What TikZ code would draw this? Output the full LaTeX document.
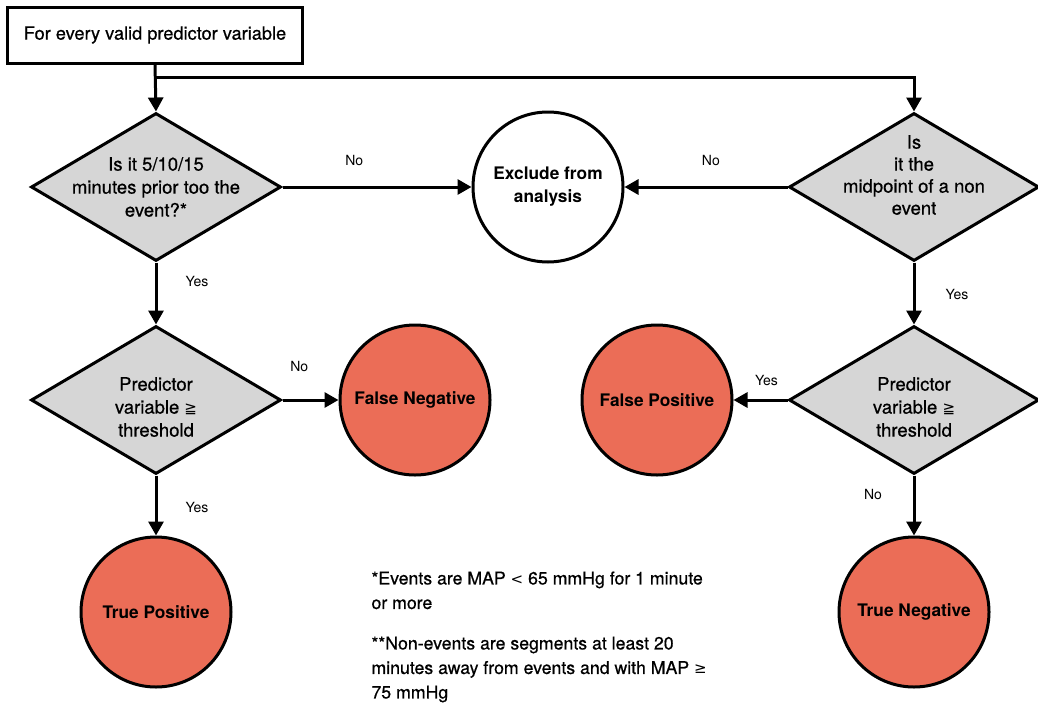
\documentclass[tikz,border=0pt]{standalone}
\usepackage{fontspec}
\setmainfont{TeX Gyre Heros}
\newfontfamily\medfont[FakeBold=0.6]{TeX Gyre Heros}
\newfontfamily\symfont{DejaVu Sans}
\usetikzlibrary{shapes.geometric,arrows.meta}
\definecolor{salmon}{HTML}{EB6D57}
\definecolor{qgray}{HTML}{D6D6D6}
\tikzset{
  startbox/.style={draw,rectangle,minimum width=295pt,minimum height=56pt,inner sep=0pt},
  question/.style={draw,diamond,fill=qgray,minimum width=250pt,minimum height=148pt,inner sep=0pt},
  qtext/.style={align=center,font=\medfont\fontsize{18.5}{23}\selectfont},
  outcome/.style={draw,circle,fill=salmon,minimum size=150pt,inner sep=0pt,align=center,
    font=\fontsize{17.3}{23}\selectfont\bfseries},
  answer/.style={font=\fontsize{14}{16}\selectfont},
  flow/.style={-{Triangle[length=14pt,width=15pt]}}
}
\begin{document}
\begin{tikzpicture}[x=1pt,y=-1pt,line width=3pt,font=\medfont\fontsize{17.5}{23}\selectfont]
    \useasboundingbox (0,0) rectangle (1038,704);
    \node[startbox,font=\medfont\fontsize{18.2}{23}\selectfont] (start) at (155,35) {For every valid predictor variable};
    \coordinate (split) at (155,77);
    \node[question,label={[qtext]center:Is it 5/10/15\\minutes prior too the\\event?*}] (prior) at (156,187) {};
    \node[outcome,fill=white] (exclude) at (548,187) {Exclude from\\analysis};
    \node[question,label={[qtext,yshift=12pt,font=\medfont\fontsize{18.5}{22}\selectfont]center:Is\\it the\\midpoint of a non\\event}] (mid) at (914,187) {};
    \node[question,label={[qtext,yshift=-7pt]center:Predictor\\variable {\symfont\fontsize{15}{23}\selectfont ≧}\\threshold}] (thrL) at (156,400) {};
    \node[outcome] (fn) at (415,400) {False Negative};
    \node[question,label={[qtext,yshift=-7pt]center:Predictor\\variable {\symfont\fontsize{15}{23}\selectfont ≧}\\threshold}] (thrR) at (914,400) {};
    \node[outcome] (fp) at (657,400) {False Positive};
    \node[outcome] (tp) at (156,612) {True Positive};
    \node[outcome] (tn) at (914,612) {True Negative};
    \node[anchor=north west,align=left,inner sep=0pt,font=\medfont\fontsize{17.7}{24.5}\selectfont] (notes) at (370,570)
      {*Events are MAP {\symfont\fontsize{15}{23}\selectfont <} 65 mmHg for 1 minute\\or more\\[16pt]
       **Non-events are segments at least 20\\minutes away from events and with MAP {\symfont\fontsize{15}{23}\selectfont ≥}\\75 mmHg};
    % connectors
    \draw[flow] (start.south) -- (prior.north);
    \draw[flow] (split) -| (mid.north);
    \draw[flow] (prior.east) -- node[answer,pos=0.38,yshift=27pt] {No} (exclude.west);
    \draw[flow] (mid.west) -- node[answer,pos=0.47,yshift=27pt] {No} (exclude.east);
    \draw[flow] (prior.south) -- node[answer,pos=0.31,xshift=41pt] {Yes} (thrL.north);
    \draw[flow] (thrL.east) -- node[answer,pos=0.3,yshift=34pt] {No} (fn.west);
    \draw[flow] (thrL.south) -- node[answer,pos=0.53,xshift=41pt] {Yes} (tp.north);
    \draw[flow] (mid.south) -- node[answer,pos=0.52,xshift=43pt] {Yes} (thrR.north);
    \draw[flow] (thrR.west) -- node[answer,pos=0.39,yshift=20pt] {Yes} (fp.east);
    \draw[flow] (thrR.south) -- node[answer,pos=0.31,xshift=-41pt] {No} (tn.north);
\end{tikzpicture}
\end{document}
